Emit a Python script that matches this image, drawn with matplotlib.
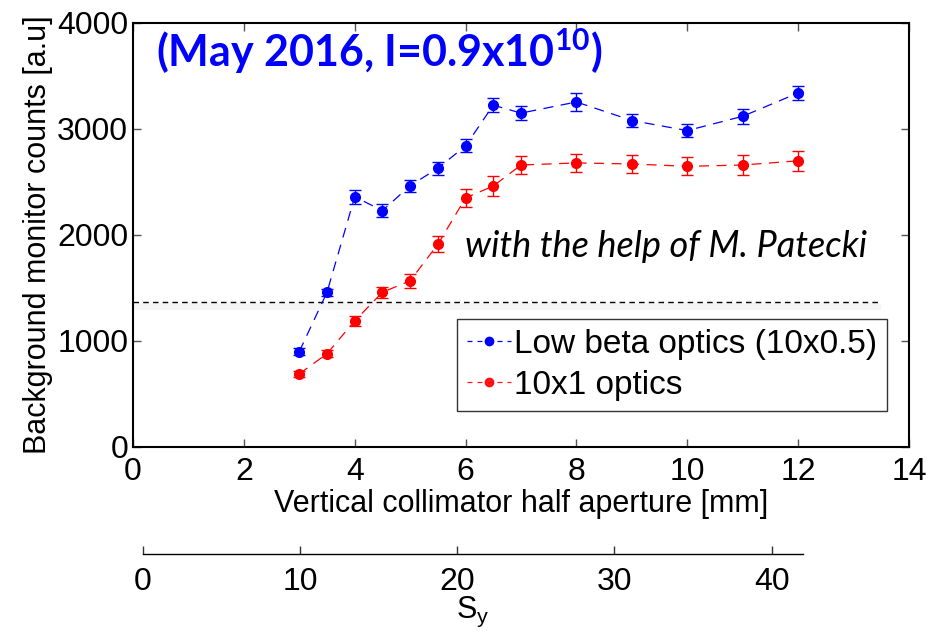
import matplotlib
matplotlib.use("Agg")
import matplotlib.pyplot as plt
from matplotlib.lines import Line2D

plt.rcParams['font.family'] = ['Liberation Sans', 'DejaVu Sans']
plt.rcParams['mathtext.fontset'] = 'custom'
plt.rcParams['mathtext.bf'] = 'Lato:bold'
plt.rcParams['mathtext.sf'] = 'Liberation Sans'

# half aperture [mm]
aperture = [3, 3.5, 4, 4.5, 5, 5.5, 6, 6.5, 7, 8, 9, 10, 11, 12]

low_beta = [900, 1460, 2360, 2230, 2465, 2630, 2840, 3225, 3150, 3255, 3080, 2985, 3120, 3340]
low_beta_err = [30, 35, 63, 60, 58, 60, 61, 63, 69, 83, 63, 63, 72, 63]

optics_10x1 = [690, 880, 1190, 1460, 1568, 1912, 2350, 2462, 2660, 2680, 2670, 2648, 2660, 2700]
optics_10x1_err = [25, 35, 44, 52, 66, 77, 85, 94, 83, 86, 85, 86, 93, 94]

threshold = 1370
threshold_band = (1290, 1360)
threshold_end = 13.5

sy_ticks = [0, 10, 20, 30, 40]

fig = plt.figure(figsize=(9.3, 6.31), dpi=100)
ax = fig.add_axes([133 / 930, 1 - 447 / 631, 776 / 930, 424 / 631])

ax.fill_between([0, threshold_end], threshold_band[0], threshold_band[1],
                color='#f5f5f5', lw=0, zorder=0)
ax.plot([0, threshold_end], [threshold, threshold], color='black', lw=1,
        ls=(0, (4, 3)), zorder=1)

ax.errorbar(aperture, low_beta, yerr=low_beta_err, fmt='o', color='blue',
            ms=7, capsize=4, elinewidth=1, capthick=1, zorder=3)
ax.plot(aperture, low_beta, color='blue', lw=0.9, ls=(0, (8, 6)), zorder=2)
ax.errorbar(aperture, optics_10x1, yerr=optics_10x1_err, fmt='o', color='red',
            ms=7, capsize=4, elinewidth=1, capthick=1, zorder=3)
ax.plot(aperture, optics_10x1, color='red', lw=0.9, ls=(0, (8, 6)), zorder=2)

ax.set_xlim(0, 14)
ax.set_ylim(0, 4000)
ax.set_xticks(range(0, 15, 2))
ax.set_yticks(range(0, 4001, 1000))
ax.tick_params(direction='in', length=6, width=1, color='#555555',
               top=True, right=True, labelsize=23)
ax.tick_params(axis='x', pad=7.5)
ax.tick_params(axis='y', pad=3.5)
for s in ax.spines.values():
    s.set_linewidth(1.5)

ax.set_xlabel('Vertical collimator half aperture [mm]', fontsize=22, labelpad=1)
ax.set_ylabel('Background monitor counts [a.u]', fontsize=22, labelpad=3)

ax.text(0.029, 0.896, r'(May 2016, I=0.9x10$^{\mathbf{10}}$)', transform=ax.transAxes,
        fontsize=31, fontweight='bold', family='Lato', color='blue', va='baseline')
ax.text(0.428, 0.448, 'with the help of M. Patecki', transform=ax.transAxes,
        fontsize=26, style='italic', family='Lato', color='black', va='baseline')

handles = [
    Line2D([], [], color='blue', lw=0.9, ls=(0, (4, 4)), marker='o', ms=6),
    Line2D([], [], color='red', lw=0.9, ls=(0, (4, 4)), marker='o', ms=6, alpha=0.9),
]
leg = ax.legend(handles, ['Low beta optics (10x0.5)', '10x1 optics'],
                loc='upper right', bbox_to_anchor=(0.972, 0.302), borderaxespad=0,
                fontsize=24, frameon=True, fancybox=False, handlelength=1.3,
                handletextpad=0.1, borderpad=0.3, labelspacing=0.3)
leg.get_frame().set_edgecolor('black')
leg.get_frame().set_linewidth(1)

# secondary S_y axis below the plot
ax2 = fig.add_axes([143 / 930, 1 - 554 / 631, 660 / 930, 0.001])
ax2.patch.set_visible(False)
for side in ['left', 'right', 'top']:
    ax2.spines[side].set_visible(False)
ax2.spines['bottom'].set_linewidth(1)
ax2.set_xlim(0, 42)
ax2.set_yticks([])
ax2.set_xticks(sy_ticks)
ax2.tick_params(axis='x', direction='in', length=6, width=1, color='#333333',
                labelsize=23, pad=9)
ax2.set_xlabel(r'$\mathsf{S}_\mathsf{y}$', fontsize=22, labelpad=-1)

fig.savefig('out.png', dpi=100)
